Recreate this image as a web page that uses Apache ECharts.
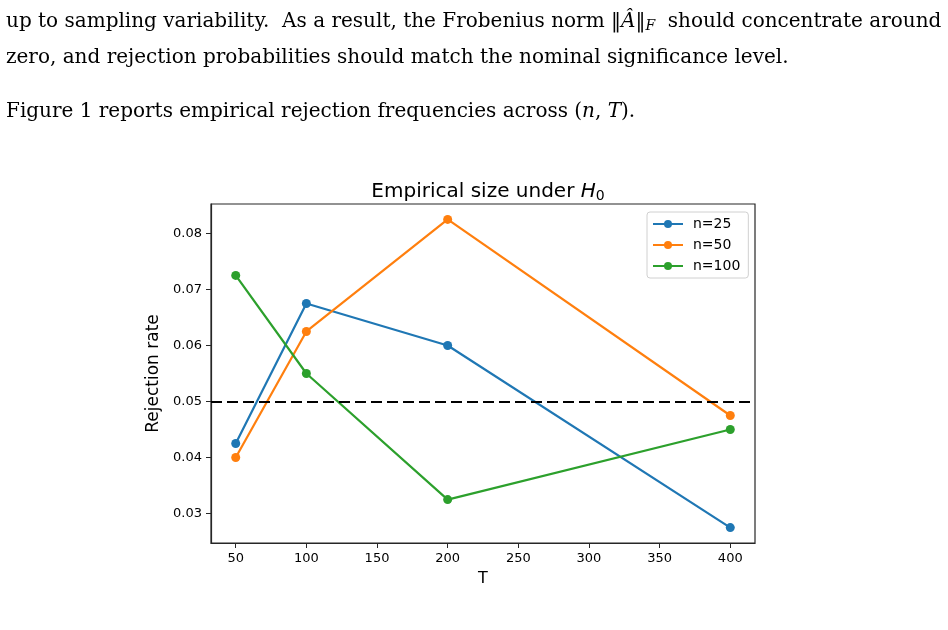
<!DOCTYPE html>
<html>
<head>
<meta charset="utf-8">
<script src="https://cdn.jsdelivr.net/npm/echarts@6/dist/echarts.min.js"></script>
<style>
  html, body { margin: 0; padding: 0; background: #fff; }
  #grafico { width: 948px; height: 630px; }
</style>
</head>
<body>
<div id="grafico"></div>
<script>
// Datos
const valoresT = [50, 100, 200, 400];
const n25 = [0.0425, 0.0675, 0.06, 0.0275];
const n50 = [0.04, 0.0625, 0.0825, 0.0475];
const n100 = [0.0725, 0.055, 0.0325, 0.045];
const ticksX = [50, 100, 150, 200, 250, 300, 350, 400];
const ticksY = [0.03, 0.04, 0.05, 0.06, 0.07, 0.08];
const nivelNominal = 0.05;

const colores = ['#1f77b4', '#ff7f0e', '#2ca02c'];
const fuenteTexto = 'DejaVu Serif';
const tamTexto = 20;

function pares(ys) {
    return valoresT.map((t, i) => [t, ys[i]]);
}

function serie(nombre, ys, color) {
    return {
        name: nombre,
        type: 'line',
        data: pares(ys),
        symbol: 'circle',
        symbolSize: 9,
        lineStyle: { width: 2.2, color: color },
        itemStyle: { color: color },
        animation: false
    };
}

const estiloTexto = {
    t: { fontFamily: fuenteTexto, fontSize: tamTexto, color: '#111' },
    it: { fontFamily: fuenteTexto, fontSize: tamTexto, color: '#111', fontStyle: 'italic' },
    sub: { fontFamily: fuenteTexto, fontSize: 14, color: '#111', fontStyle: 'italic', padding: [8, 0, 0, 0] },
    link: { fontFamily: fuenteTexto, fontSize: tamTexto, color: '#2aa3b8' }
};

const grafico = echarts.init(document.getElementById('grafico'));
grafico.setOption({
    backgroundColor: '#fff',
    animation: false,
    title: {
        text: '{n|Empirical size under }{i|H}{s|0}',
        left: 483,
        top: 175,
        textAlign: 'center',
        textStyle: {
            fontWeight: 'normal',
            rich: {
                n: { fontFamily: 'DejaVu Sans', fontSize: 20, color: '#000', fontWeight: 'normal' },
                i: { fontFamily: 'DejaVu Sans', fontSize: 20, color: '#000', fontStyle: 'italic', fontWeight: 'normal' },
                s: { fontFamily: 'DejaVu Sans', fontSize: 14, color: '#000', fontWeight: 'normal', padding: [9, 0, 0, 0] }
            }
        }
    },
    legend: {
        orient: 'vertical',
        left: 647,
        top: 212,
        padding: [5, 8, 5, 5],
        itemWidth: 30,
        itemHeight: 10,
        itemGap: 7,
        backgroundColor: 'rgba(255,255,255,0.8)',
        borderColor: '#d0d0d0',
        borderWidth: 1,
        borderRadius: 3,
        textStyle: { fontFamily: 'DejaVu Sans', fontSize: 14, color: '#000', padding: [0, 0, 0, 5] },
        data: ['n=25', 'n=50', 'n=100']
    },
    grid: {
        left: 211,
        top: 204,
        width: 544,
        height: 339,
        show: true,
        borderColor: '#262626',
        borderWidth: 1.2,
        backgroundColor: 'transparent'
    },
    xAxis: {
        type: 'value',
        min: 32.5,
        max: 417.5,
        name: 'T',
        nameLocation: 'middle',
        nameGap: 28,
        nameTextStyle: { fontFamily: 'DejaVu Sans', fontSize: 16, color: '#000' },
        axisLine: { lineStyle: { color: '#262626', width: 1.2 } },
        axisTick: { show: true, length: 5, customValues: ticksX, lineStyle: { color: '#262626' } },
        axisLabel: { customValues: ticksX, margin: 9, fontFamily: 'DejaVu Sans', fontSize: 13, color: '#000' },
        splitLine: { show: false }
    },
    yAxis: {
        type: 'value',
        min: 0.02475,
        max: 0.08525,
        name: 'Rejection rate',
        nameLocation: 'middle',
        nameGap: 43,
        nameTextStyle: { fontFamily: 'DejaVu Sans', fontSize: 17, color: '#000' },
        axisLine: { show: true, lineStyle: { color: '#262626', width: 1.2 } },
        axisTick: { show: true, length: 5, customValues: ticksY, lineStyle: { color: '#262626' } },
        axisLabel: {
            customValues: ticksY,
            margin: 9,
            fontFamily: 'DejaVu Sans',
            fontSize: 13,
            color: '#000',
            formatter: v => v.toFixed(2)
        },
        splitLine: { show: false }
    },
    series: [
        Object.assign(serie('n=25', n25, colores[0]), {
            markLine: {
                silent: true,
                symbol: 'none',
                label: { show: false },
                lineStyle: { color: '#000', width: 2, type: [11, 5] },
                data: [{ yAxis: nivelNominal }]
            }
        }),
        serie('n=50', n50, colores[1]),
        serie('n=100', n100, colores[2])
    ],
    graphic: [
        {
            type: 'text', left: 6, top: 12,
            style: {
                text: '{t|up to sampling variability.  As a result, the Frobenius norm }{t|‖}{it|Â}{t|‖}{sub|F}{t|  should concentrate around}',
                rich: estiloTexto
            }
        },
        {
            type: 'text', left: 6, top: 48,
            style: {
                text: '{t|zero, and rejection probabilities should match the nominal significance level.}',
                rich: estiloTexto
            }
        },
        {
            type: 'text', left: 6, top: 102,
            style: {
                text: '{t|Figure }{link|1}{t| reports empirical rejection frequencies across (}{it|n}{t|, }{it|T}{t|).}',
                rich: estiloTexto
            }
        }
    ]
});
</script>
</body>
</html>
